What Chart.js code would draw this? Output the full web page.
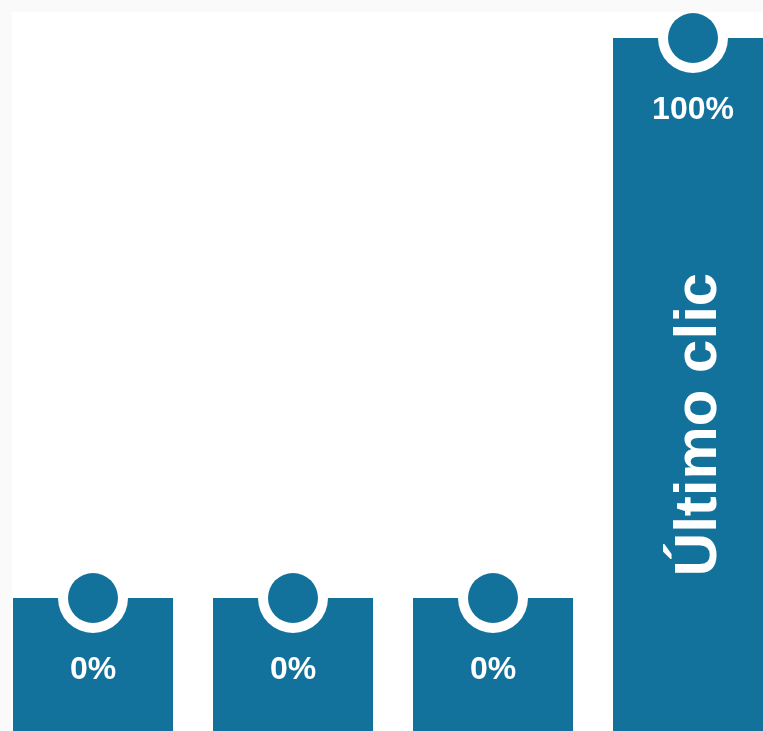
<!DOCTYPE html>
<html lang="es">
  <head>
    <meta charset="UTF-8" />
    <title>Atribución</title>
    <script src="https://cdn.jsdelivr.net/npm/chart.js@4.4.0/dist/chart.umd.min.js"></script>
    <style>
      body { margin: 0; background: #fafafa; overflow: hidden; }
      #panel { position: absolute; left: 12px; top: 12px; right: 0; bottom: 0; background: #fff; }
      #wrap { position: absolute; left: -7px; top: 12px; width: 800px; height: 719px; }
    </style>
  </head>
  <body>
    <div id="panel"></div>
    <div id="wrap"><canvas id="myChart"></canvas></div>
    <script>
      // data
      const labels = ['', '', '', 'Último clic'];
      const values = [0, 0, 0, 100];
      const valueLabels = ['0%', '0%', '0%', '100%'];

      const barColor = '#13729b';
      const yMin = -23.75;

      // circles, percent labels and vertical name on each bar
      const barDecor = {
        id: 'barDecor',
        afterDatasetsDraw(chart) {
          const ctx = chart.ctx;
          const meta = chart.getDatasetMeta(0);
          const bottom = chart.chartArea.bottom;
          meta.data.forEach(function (bar, i) {
            const x = bar.x, top = bar.y;
            ctx.save();
            ctx.fillStyle = '#ffffff';
            ctx.beginPath();
            ctx.arc(x, top, 35, 0, Math.PI * 2);
            ctx.fill();
            ctx.fillStyle = barColor;
            ctx.beginPath();
            ctx.arc(x, top, 25, 0, Math.PI * 2);
            ctx.fill();

            ctx.fillStyle = '#ffffff';
            ctx.font = 'bold 32px "Liberation Sans", Arial, sans-serif';
            ctx.textAlign = 'center';
            ctx.textBaseline = 'middle';
            ctx.fillText(valueLabels[i], x, top + 72);

            if (labels[i]) {
              ctx.translate(x + 23, (top + 80 + bottom) / 2);
              ctx.rotate(-Math.PI / 2);
              ctx.font = 'bold 60px "Liberation Sans", Arial, sans-serif';
              ctx.textBaseline = 'alphabetic';
              ctx.fillText(labels[i], 0, 0);
            }
            ctx.restore();
          });
        }
      };

      const ctx = document.getElementById('myChart').getContext('2d');
      const myChart = new Chart(ctx, {
        type: 'bar',
        data: {
          labels: labels,
          datasets: [
            {
              data: values,
              base: yMin,
              backgroundColor: barColor,
              borderWidth: 0,
              barPercentage: 0.8,
              categoryPercentage: 1
            }
          ]
        },
        options: {
          responsive: true,
          maintainAspectRatio: false,
          animation: false,
          layout: { padding: { top: 26, left: 0, right: 0, bottom: 0 } },
          plugins: { legend: { display: false }, tooltip: { enabled: false } },
          scales: {
            x: { display: false, offset: true },
            y: { display: false, min: yMin, max: 100 }
          }
        },
        plugins: [barDecor]
      });
    </script>
  </body>
</html>
